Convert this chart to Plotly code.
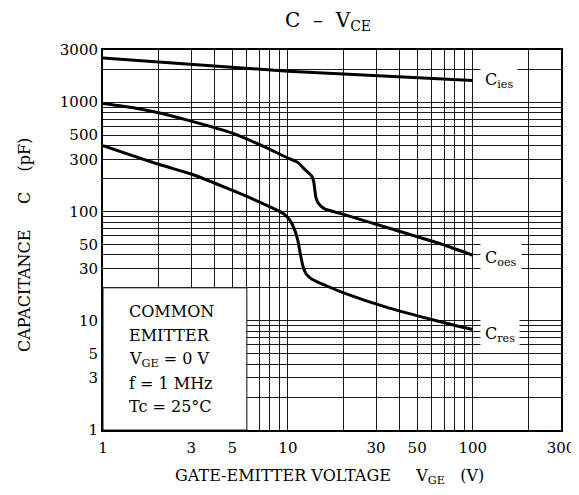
import math
import plotly.graph_objects as go

# ---- data ----
vce_ies = [1, 2, 5, 10, 20, 50, 100]
cies = [2530, 2330, 2090, 1920, 1810, 1680, 1580]

vce_oes = [1, 1.5, 2, 3, 5, 7, 10, 11.4, 12.1, 13, 13.5, 13.8, 14.0, 14.2, 14.6, 15.7, 20.4, 35, 65, 100]
coes = [970, 880, 800, 670, 520, 410, 308, 278, 250, 224, 209, 186, 154, 133, 119, 106, 93, 70.5, 51.4, 39.7]

vce_res = [1, 2, 3, 4, 6, 8, 9.5, 10.2, 10.8, 11.3, 11.7, 12.1, 12.6, 13.5, 16, 20, 35, 65, 100]
cres = [400, 270, 220, 182, 137, 110, 95, 84, 70, 55, 40, 31, 26.5, 24, 21, 18, 13.1, 9.9, 8.3]

x_grid = [1, 2, 3, 4, 5, 6, 7, 8, 9, 10, 20, 30, 40, 50, 60, 70, 80, 90, 100, 200, 300]
x_labeled = [1, 3, 5, 10, 30, 50, 100, 300]
y_grid = [1, 2, 3, 4, 5, 6, 7, 8, 9, 10, 20, 30, 40, 50, 60, 70, 80, 90,
          100, 200, 300, 400, 500, 600, 700, 800, 900, 1000, 2000, 3000]
y_labeled = [1, 3, 5, 10, 30, 50, 100, 300, 500, 1000, 3000]

cond_lines = ["COMMON", "EMITTER", "V<sub>GE</sub> = 0 V", "f = 1 MHz", "Tc = 25°C"]
curve_labels = ["C<sub>ies</sub>", "C<sub>oes</sub>", "C<sub>res</sub>"]

FONT = "DejaVu Serif"
NB = "\u00a0"

XMAX, YMAX = 300, 3000
LX, LY = math.log10(XMAX), math.log10(YMAX)

fig = go.Figure()
fig.add_trace(go.Scatter(x=vce_ies, y=cies, mode="lines",
                         line=dict(color="black", width=3),
                         showlegend=False, hoverinfo="skip"))
for xs, ys in [(vce_oes, coes), (vce_res, cres)]:
    fig.add_trace(go.Scatter(x=xs, y=ys, mode="lines",
                             line=dict(color="black", width=3, shape="spline", smoothing=0.6),
                             showlegend=False, hoverinfo="skip"))

L, R, T, B = 95, 26, 42, 73
W, H = 579, 495
pw, ph = W - L - R, H - T - B

def px_to_logx(px):
    return (px - L) / pw * LX

def px_to_logy(py):
    return (H - B - py) / ph * LY

# white conditions box (x 1..6, y 1..20) hiding the grid, in paper units
fig.add_shape(type="rect", xref="paper", yref="paper",
              x0=0, x1=math.log10(6) / LX, y0=0, y1=math.log10(20) / LY,
              fillcolor="white", line=dict(color="#111", width=1), layer="above")

annotations = []
cond_y_px = [303, 327, 351, 375, 398]
for txt, ypx in zip(cond_lines, cond_y_px):
    annotations.append(dict(x=px_to_logx(119), y=px_to_logy(ypx), xref="x", yref="y",
                            text=txt, showarrow=False, xanchor="left", yanchor="middle",
                            font=dict(family=FONT, size=16, color="black")))

label_y_px = [72, 250, 326]
for txt, ypx in zip(curve_labels, label_y_px):
    annotations.append(dict(x=px_to_logx(472), y=px_to_logy(ypx), xref="x", yref="y",
                            text=txt, showarrow=False, xanchor="left", yanchor="middle",
                            bgcolor="white", borderpad=4,
                            font=dict(family=FONT, size=16, color="black")))

# axis titles
annotations.append(dict(x=(321 - L) / pw, y=(H - B - 468) / ph, xref="paper", yref="paper",
                        text="GATE-EMITTER VOLTAGE" + NB * 5 + "V<sub>GE</sub>" + NB * 3 + "(V)",
                        showarrow=False, xanchor="center", yanchor="middle",
                        font=dict(family=FONT, size=16, color="black")))
annotations.append(dict(x=(17 - L) / pw, y=(H - B - 237) / ph, xref="paper", yref="paper",
                        text="CAPACITANCE" + NB * 5 + "C" + NB * 4 + "(pF)", textangle=-90,
                        showarrow=False, xanchor="center", yanchor="middle",
                        font=dict(family=FONT, size=16, color="black")))

fig.update_layout(
    width=W, height=H,
    margin=dict(l=L, r=R, t=T, b=B),
    paper_bgcolor="white", plot_bgcolor="white",
    title=dict(text="C" + NB * 2 + "–" + NB * 2 + "V<sub>CE</sub>", x=320 / W, xref="container",
               y=1 - 5 / H, yref="container", xanchor="center", yanchor="top",
               font=dict(family=FONT, size=20, color="black")),
    annotations=annotations,
    xaxis=dict(type="log", range=[0, LX],
               tickmode="array", tickvals=x_grid,
               ticktext=[str(v) if v in x_labeled else "" for v in x_grid],
               ticks="", showgrid=True, gridcolor="#1a1a1a", gridwidth=1,
               showline=True, linecolor="black", linewidth=2, mirror=True,
               zeroline=False, ticklabelstandoff=3,
               tickfont=dict(family=FONT, size=15, color="black")),
    yaxis=dict(type="log", range=[0, LY],
               tickmode="array", tickvals=y_grid,
               ticktext=[str(v) if v in y_labeled else "" for v in y_grid],
               ticks="", showgrid=True, gridcolor="#1a1a1a", gridwidth=1,
               showline=True, linecolor="black", linewidth=2, mirror=True,
               zeroline=False, ticklabelstandoff=0,
               tickfont=dict(family=FONT, size=15, color="black")),
)

fig.write_html("out.html")
